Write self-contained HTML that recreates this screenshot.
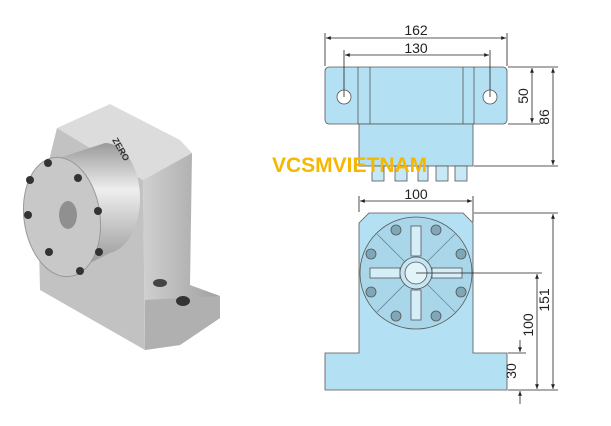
<!DOCTYPE html>
<html><head><style>
html,body{margin:0;padding:0;background:#fff;width:611px;height:426px;overflow:hidden}
svg{position:absolute;left:0;top:0}
text{font-family:"Liberation Sans",sans-serif}
</style></head><body>
<svg width="611" height="426" viewBox="0 0 611 426">
<defs>
<linearGradient id="g1" x1="0" x2="1"><stop offset="0" stop-color="#d0d0d0"/><stop offset="1" stop-color="#a0a0a0"/></linearGradient>
<linearGradient id="g2" x1="0" x2="0" y1="0" y2="1"><stop offset="0" stop-color="#9a9a9a"/><stop offset="0.35" stop-color="#eeeeee"/><stop offset="1" stop-color="#8c8c8c"/></linearGradient>
<marker id="a" viewBox="0 0 10 10" refX="10" refY="5" markerWidth="9" markerHeight="6" orient="auto-start-reverse"><path d="M0,1L10,5L0,9z" fill="#222"/></marker>
</defs>
<!-- product photo -->
<polygon points="57,128 110,104 180,140 192,153 143,180" fill="#dcdcdc"/>
<polygon points="143,180 192,153 190,285 220,296 220,318 180,345 145,350" fill="url(#g1)"/>
<polygon points="57,128 143,180 145,350 110,330 40,290 38,205" fill="#c2c2c2"/>
<polygon points="145,300 220,296 220,318 180,345 145,350" fill="#b0b0b0"/>
<ellipse cx="160" cy="283" rx="7" ry="4" fill="#444"/>
<ellipse cx="183" cy="301" rx="7" ry="5" fill="#333"/>
<path d="M62,157 L105,143 A35,55 0 0 1 140,200 A35,55 0 0 1 110,253 L62,277 Z" fill="url(#g2)"/>
<ellipse cx="62" cy="217" rx="38" ry="60" transform="rotate(-8 62 217)" fill="#c8c8c8" stroke="#999"/>
<ellipse cx="68" cy="215" rx="9" ry="14" fill="#909090"/>
<g fill="#333"><circle cx="48" cy="163" r="4"/><circle cx="30" cy="180" r="4"/><circle cx="28" cy="215" r="4"/><circle cx="49" cy="252" r="4"/><circle cx="80" cy="271" r="4"/><circle cx="99" cy="252" r="4"/><circle cx="98" cy="211" r="4"/><circle cx="78" cy="178" r="4"/></g>
<text x="112" y="140" font-size="9" font-weight="bold" fill="#333" transform="rotate(60 112 140)">ZERO</text>
<!-- top view -->
<g stroke="#555" stroke-width="0.8">
<rect x="325" y="67" width="182" height="57" rx="4" fill="#b3e0f2"/>
<line x1="358" y1="67" x2="358" y2="124"/><line x1="370" y1="67" x2="370" y2="124"/>
<line x1="463" y1="67" x2="463" y2="124"/><line x1="474" y1="67" x2="474" y2="124"/>
<rect x="359" y="124" width="114" height="42" fill="#b3e0f2"/>
<circle cx="344" cy="97" r="7" fill="#fff"/><circle cx="490" cy="97" r="7" fill="#fff"/>
<rect x="372" y="166" width="12" height="15" fill="#c8e8f5"/><rect x="395" y="166" width="12" height="15" fill="#c8e8f5"/><rect x="418" y="166" width="10" height="15" fill="#c8e8f5"/><rect x="436" y="166" width="12" height="15" fill="#c8e8f5"/><rect x="455" y="166" width="12" height="15" fill="#c8e8f5"/>
</g>
<!-- front view -->
<g stroke="#555" stroke-width="0.8">
<polygon points="369,213 463,213 473,223 473,353 507,353 507,390 325,390 325,353 359,353 359,223" fill="#b3e0f2"/>
<circle cx="416" cy="273" r="56" fill="#a9d6e9"/>
<g stroke="#6a8a99"><line x1="376" y1="233" x2="456" y2="313"/><line x1="456" y1="233" x2="376" y2="313"/></g>
<rect x="411" y="226" width="10" height="30" fill="#d5eef8"/><rect x="411" y="290" width="10" height="30" fill="#d5eef8"/>
<rect x="370" y="268" width="30" height="10" fill="#d5eef8"/><rect x="432" y="268" width="30" height="10" fill="#d5eef8"/>
<circle cx="416" cy="273" r="16" fill="#c5e5f2"/><circle cx="416" cy="273" r="11" fill="#e3f3fa"/>
<g fill="#7fa7b8"><circle cx="396" cy="230" r="5"/><circle cx="436" cy="230" r="5"/><circle cx="371" cy="254" r="5"/><circle cx="461" cy="254" r="5"/><circle cx="371" cy="292" r="5"/><circle cx="461" cy="292" r="5"/><circle cx="396" cy="316" r="5"/><circle cx="436" cy="316" r="5"/></g>
</g>
<!-- dimensions -->
<g stroke="#222" stroke-width="0.8" fill="none">
<line x1="325" y1="33" x2="325" y2="66"/><line x1="507" y1="33" x2="507" y2="66"/>
<line x1="344" y1="50" x2="344" y2="97"/><line x1="490" y1="50" x2="490" y2="97"/>
<line x1="326" y1="38" x2="506" y2="38" marker-start="url(#a)" marker-end="url(#a)"/>
<line x1="345" y1="55" x2="489" y2="55" marker-start="url(#a)" marker-end="url(#a)"/>
<line x1="508" y1="67" x2="558" y2="67"/><line x1="508" y1="124" x2="540" y2="124"/><line x1="474" y1="166" x2="558" y2="166"/>
<line x1="532" y1="68" x2="532" y2="123" marker-start="url(#a)" marker-end="url(#a)"/>
<line x1="553" y1="68" x2="553" y2="165" marker-start="url(#a)" marker-end="url(#a)"/>
<line x1="359" y1="196" x2="359" y2="212"/><line x1="473" y1="196" x2="473" y2="222"/>
<line x1="360" y1="201" x2="472" y2="201" marker-start="url(#a)" marker-end="url(#a)"/>
<line x1="474" y1="213" x2="558" y2="213"/><line x1="416" y1="273" x2="542" y2="273"/>
<line x1="508" y1="353" x2="526" y2="353"/><line x1="508" y1="390" x2="558" y2="390"/>
<line x1="553" y1="214" x2="553" y2="389" marker-start="url(#a)" marker-end="url(#a)"/>
<line x1="537" y1="274" x2="537" y2="389" marker-start="url(#a)" marker-end="url(#a)"/>
<line x1="520" y1="340" x2="520" y2="352" marker-end="url(#a)"/>
<line x1="520" y1="404" x2="520" y2="391" marker-end="url(#a)"/>
</g>
<g font-size="14" fill="#222">
<text x="416" y="35" text-anchor="middle">162</text>
<text x="416" y="53" text-anchor="middle">130</text>
<text x="416" y="199" text-anchor="middle">100</text>
<text transform="translate(528,96) rotate(-90)" text-anchor="middle">50</text>
<text transform="translate(549,117) rotate(-90)" text-anchor="middle">86</text>
<text transform="translate(549,300) rotate(-90)" text-anchor="middle">151</text>
<text transform="translate(533,325) rotate(-90)" text-anchor="middle">100</text>
<text transform="translate(516,371) rotate(-90)" text-anchor="middle">30</text>
</g>
<text x="272" y="172" font-size="21" font-weight="bold" fill="#f6b700">VCSMVIETNAM</text>
</svg>
</body></html>
